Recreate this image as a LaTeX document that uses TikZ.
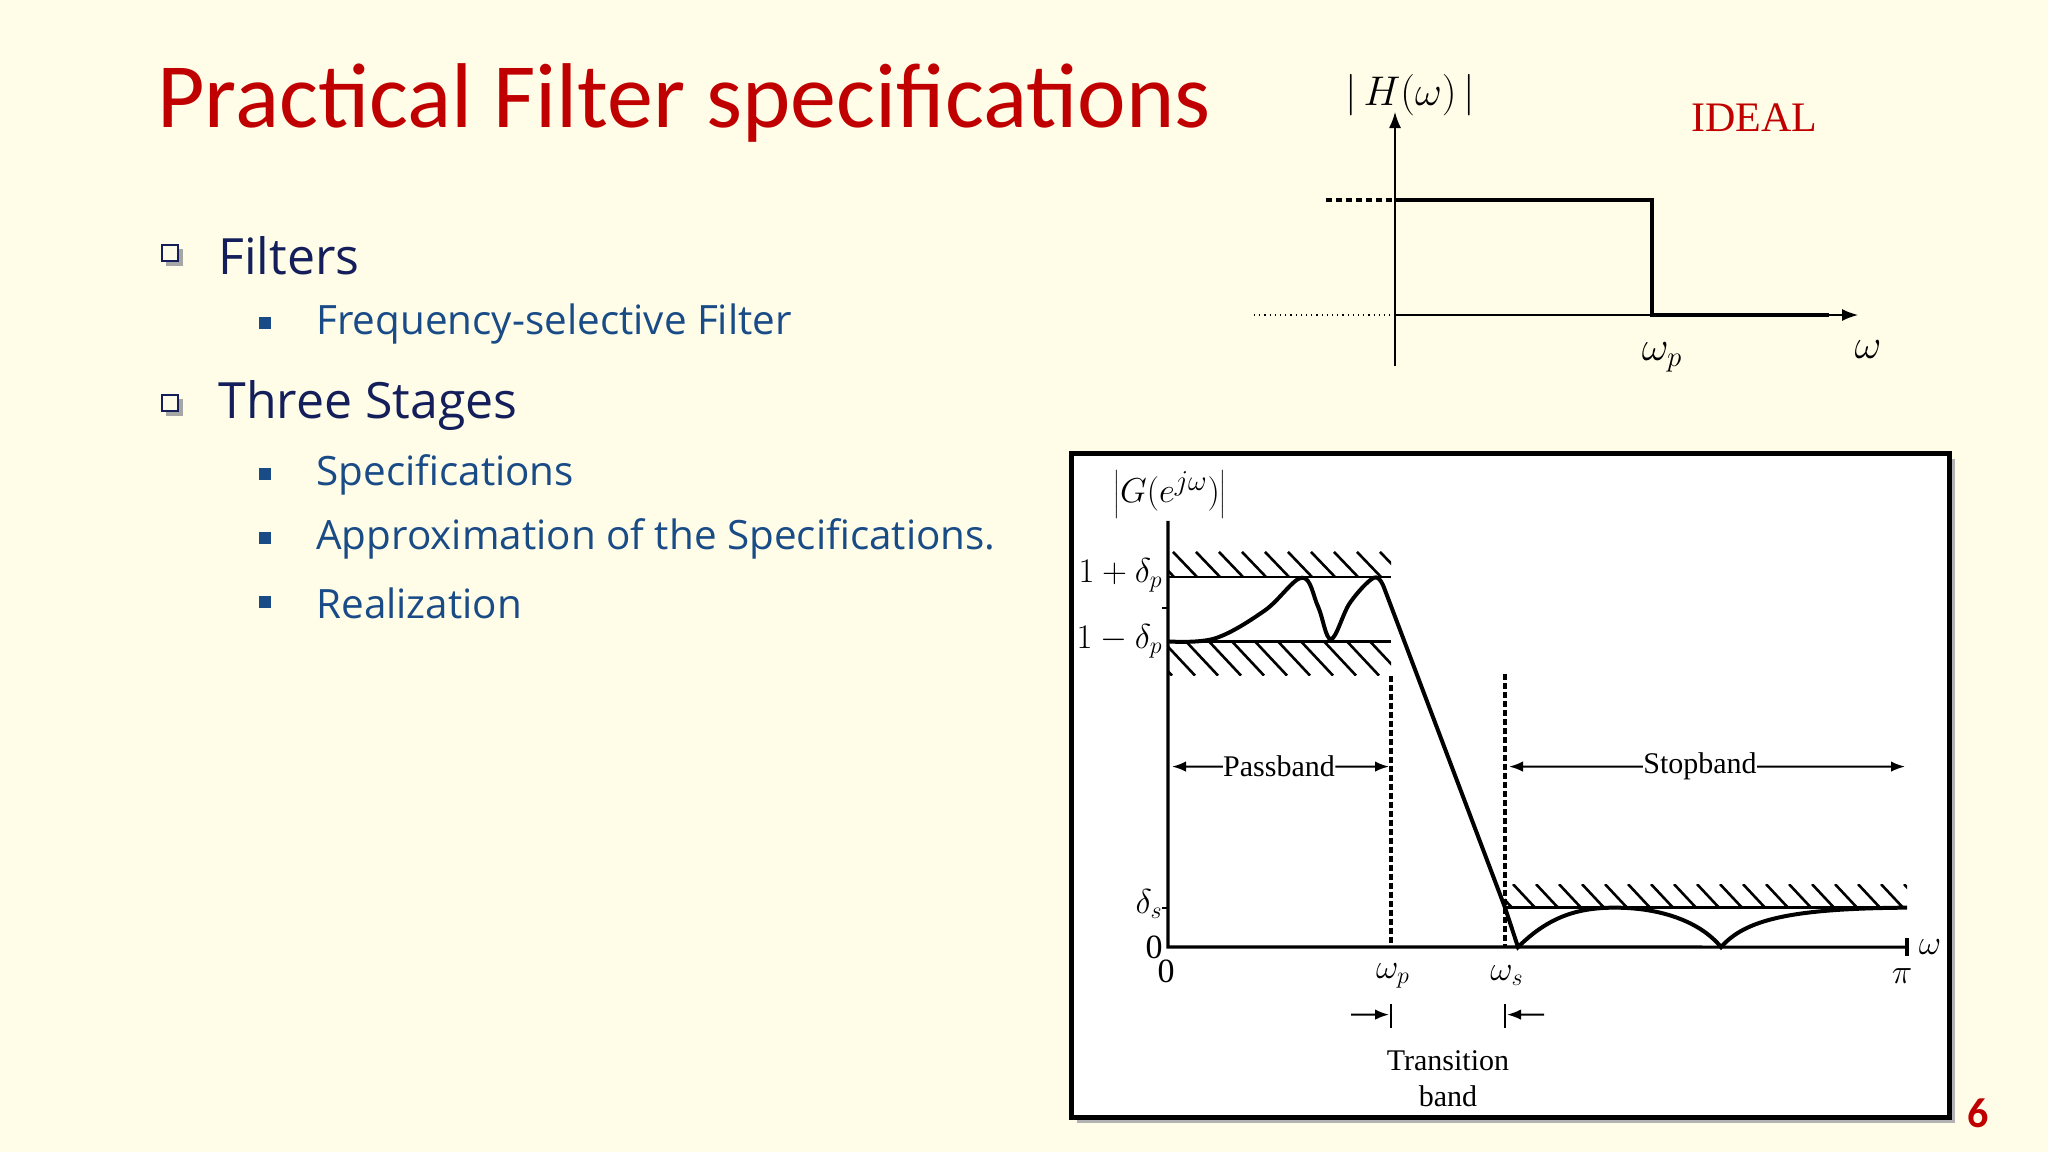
\documentclass[tikz,border=0pt]{standalone}
\usepackage{fontspec}
\setmainfont{Liberation Serif}
\newfontfamily\carl{Carlito}
\newfontfamily\opsans{Open Sans}
\usetikzlibrary{arrows.meta}
\definecolor{bg}{RGB}{255,253,232}
\definecolor{ttl}{RGB}{192,0,0}
\definecolor{navy}{RGB}{20,30,90}
\definecolor{sub}{RGB}{25,75,135}
\begin{document}
\begin{tikzpicture}[x=0.5pt,y=-0.5pt,
  tx/.style={inner sep=0pt,font=\fontsize{15}{17}\selectfont},
  lab/.style={inner sep=0pt,font=\fontsize{17}{19}\selectfont},
  hat/.style={line width=1.3pt},
  lvl1/.style={anchor=west,inner sep=0pt,text=navy,font=\opsans\fontsize{25}{30}\selectfont},
  lvl2/.style={anchor=west,inner sep=0pt,text=sub,font=\opsans\fontsize{20.2}{24}\selectfont}]
\fill[bg] (0,0) rectangle (2048,1152);
\useasboundingbox (0,0) rectangle (2048,1152);
% title
\node[anchor=base west,inner sep=0pt,text=ttl,font=\carl\fontsize{46}{52}\selectfont] (title) at (157,127) {Practical Filter specifications};
% bullets
\foreach \y in {256,406}{
  \fill[gray!70] (166,\y-7) rectangle (183,\y+10);
  \draw[navy,line width=1.3pt,fill=bg] (162,\y-11) rectangle (178,\y+5);}
\foreach \y in {324,475,539,603}{ \fill[sub] (259,\y-7) rectangle (271,\y+5);}
\node[lvl1] (b1) at (218,256) {Filters};
\node[lvl2] (s1) at (316,324) {Frequency-selective Filter};
\node[lvl1] (b2) at (218,406) {Three Stages};
\node[lvl2] (s2) at (316,475) {Specifications};
\node[lvl2] (s3) at (316,539) {Approximation of the Specifications.};
\node[lvl2] (s4) at (316,603) {Realization};
% ideal plot
\coordinate (ya0) at (1395,366); \coordinate (ya1) at (1395,112);
\draw[-{Latex[length=8pt]},line width=0.8pt] (ya0) -- (ya1);
\coordinate (xa0) at (1395,315); \coordinate (xa1) at (1858,315);
\draw[-{Latex[length=8pt]},line width=0.8pt] (xa0) -- (xa1);
\draw[dotted,line width=0.6pt] (1254,315) -- (xa0);
\draw[line width=2pt,dash pattern=on 3pt off 2pt] (1326,200) -- (1395,200);
\draw[line width=2.2pt] (1395,200) -- (1652,200) -- (1652,315) -- (1829,315);
\node[tx,font=\fontsize{22}{24}\selectfont] (hl) at (1410,95) {$|\,H(\omega)\,|$};
\node[tx,text=ttl,font=\fontsize{21}{24}\selectfont] (ideal) at (1754,118) {IDEAL};
\node[tx,font=\fontsize{22}{24}\selectfont] (wp) at (1662,357) {$\omega_{\scriptstyle p}$};
\node[tx,font=\fontsize{22}{24}\selectfont] (w) at (1868,350) {$\omega$};
% box
\fill[gray!60] (1077,459) rectangle (1955,1123);
\draw[line width=2.5pt,fill=white] (1071,453) rectangle (1949,1117);
\begin{scope}[shift={(0,109.7)},yscale=0.7585]
% hatch
\begin{scope}
\clip (1168,583) rectangle (1391,616);
\foreach \x in {1150,1173,...,1400} \draw[hat] (\x,583) -- (\x+24,616);
\end{scope}
\begin{scope}
\clip (1168,701) rectangle (1391,746);
\foreach \x in {1140,1163,...,1400} \draw[hat] (\x,701) -- (\x+32,746);
\end{scope}
\begin{scope}
\clip (1505,1021) rectangle (1907,1052);
\foreach \x in {1490,1513,...,1920} \draw[hat] (\x,1021) -- (\x+22,1052);
\end{scope}
\draw[line width=1.2pt] (1168,616) -- (1391,616) (1168,701) -- (1391,701) (1505,1052) -- (1907,1052);
% axes
\coordinate (o) at (1168,1104);
\draw[line width=1.6pt] (1168,542) -- (o) -- (1907,1104);
\draw[line width=1.6pt] (1907,1092) -- (1907,1116);
\draw[line width=1pt] (1162,657) -- (1168,657) (1162,1052) -- (1168,1052);
\draw[line width=1.6pt,dash pattern=on 3pt off 1.5pt] (1391,746) -- (1391,1104) (1505,744) -- (1505,1104);
% response
\draw[line width=2pt] plot[smooth,tension=0.6] coordinates {(1168,701) (1215,697) (1265,660) (1302,617) (1318,655) (1331,698) (1350,650) (1374,617) (1384,630)} -- (1505,1052) -- (1518,1104)
  .. controls (1550,1062) and (1580,1052) .. (1615,1052) .. controls (1660,1052) and (1700,1070) .. (1721,1104)
  .. controls (1745,1068) and (1790,1053) .. (1907,1052);
% band arrows
\node[tx] (pb) at (1279,866) {Passband};
\draw[-{Latex[length=7pt]},line width=1pt] (pb.west) -- (1172,866);
\draw[-{Latex[length=7pt]},line width=1pt] (pb.east) -- (1389,866);
\node[tx] (sb) at (1700,866) {Stopband};
\draw[-{Latex[length=7pt]},line width=1pt] (sb.west) -- (1509,866);
\draw[-{Latex[length=7pt]},line width=1pt] (sb.east) -- (1905,866);
% labels
\node[lab,font=\fontsize{19}{21}\selectfont] (g) at (1170,507) {$\left|G(e^{j\omega})\right|$};
\node[lab,anchor=east] (l1) at (1163,614) {$1+\delta_p$};
\node[lab,anchor=east] (l2) at (1163,701) {$1-\delta_p$};
\node[lab,anchor=east] (ls) at (1163,1047) {$\delta_s$};
\node[lab,anchor=east] (l0) at (1163,1104) {0};
\node[lab] (x0) at (1166,1136) {0};
\node[lab] (xp) at (1393,1142) {$\omega_p$};
\node[lab] (xs) at (1507,1142) {$\omega_s$};
\node[lab] (xpi) at (1902,1142) {$\pi$};
\node[lab] (xw) at (1930,1104) {$\omega$};
\draw[line width=1.3pt] (1391,1179) -- (1391,1211) (1505,1179) -- (1505,1211);
\coordinate (ta) at (1351,1193); \coordinate (tb) at (1544,1193);
\draw[-{Latex[length=7pt]},line width=1pt] (ta) -- (1389,1193);
\draw[-{Latex[length=7pt]},line width=1pt] (tb) -- (1507,1193);
\node[tx] (tr1) at (1448,1254) {Transition};
\node[tx] (tr2) at (1448,1300) {band};
\end{scope}
% page number
\node[tx,text=ttl,font=\carl\bfseries\fontsize{21}{23}\selectfont] (pn) at (1978,1113) {6};
\end{tikzpicture}
\end{document}
